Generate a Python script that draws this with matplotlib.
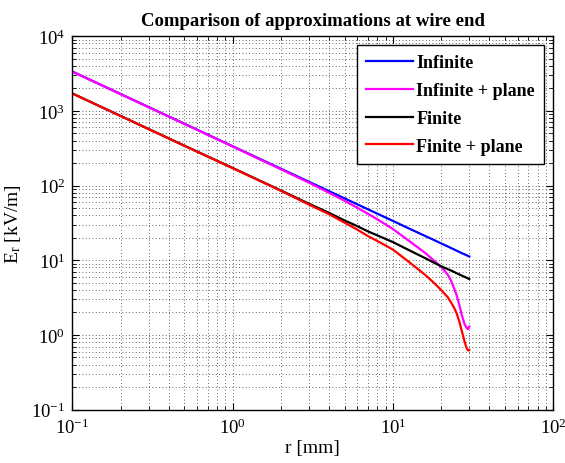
import matplotlib
matplotlib.use("Agg")
import matplotlib.pyplot as plt
from matplotlib.ticker import LogLocator

plt.rcParams['font.family'] = ['Liberation Serif']
plt.rcParams['mathtext.fontset'] = 'custom'
plt.rcParams['mathtext.rm'] = 'Liberation Serif'
plt.rcParams['mathtext.it'] = 'Liberation Serif:italic'
plt.rcParams['mathtext.bf'] = 'Liberation Serif:bold'

r_mm = [0.1, 0.2, 0.5, 1, 2, 3, 4, 5, 6, 7, 8, 10, 13, 16, 18, 20, 22, 23, 24, 25, 26, 27, 28, 28.5, 29, 29.5, 30]
e_infinite = [3360, 1680, 672, 336, 168, 112, 84, 67.2, 56, 48, 42, 33.6, 25.8, 21, 18.7, 16.8, 15.3, 14.6, 14, 13.4, 12.9, 12.4, 12, 11.8, 11.6, 11.4, 11.2]
e_infinite_plane = [3350, 1675, 668, 333, 165, 109, 79.8, 62.5, 50.4, 41.8, 35.3, 26.2, 17.3, 12.4, 9.9, 8.2, 6.4, 5.4, 4.3, 3.4, 2.5, 1.8, 1.4, 1.3, 1.22, 1.2, 1.3]
e_finite = [1710, 855, 342, 172, 86, 57, 43, 34, 28.6, 24.3, 21.5, 17.5, 13.2, 10.6, 9.3, 8.3, 7.6, 7.3, 7.0, 6.7, 6.45, 6.2, 6.0, 5.9, 5.8, 5.7, 5.6]
e_finite_plane = [1705, 852, 340, 171, 85, 55.5, 41.3, 31.8, 25.7, 21, 18.1, 13.9, 9.0, 6.3, 5.0, 4.0, 3.2, 2.75, 2.35, 1.95, 1.5, 1.1, 0.82, 0.72, 0.65, 0.62, 0.63]

labels = ["Infinite", "Infinite + plane", "Finite", "Finite + plane"]
colors = ["#0000ff", "#ff00ff", "#000000", "#ff0000"]

fig = plt.figure(figsize=(5.65, 4.64), dpi=100)
ax = fig.add_axes([0.128, 0.115, 0.851, 0.805])

for ys, lab, c in zip([e_infinite, e_infinite_plane, e_finite, e_finite_plane], labels, colors):
    ax.plot(r_mm, ys, color=c, lw=1.6, label=lab)

ax.set_xscale('log')
ax.set_yscale('log')
ax.set_xlim(0.1, 100)
ax.set_ylim(0.1, 1e4)
ax.xaxis.set_major_locator(LogLocator(base=10, numticks=10))
ax.yaxis.set_major_locator(LogLocator(base=10, numticks=10))
ax.xaxis.set_minor_locator(LogLocator(base=10, subs=range(2, 10), numticks=20))
ax.yaxis.set_minor_locator(LogLocator(base=10, subs=range(2, 10), numticks=20))

ax.grid(True, which='both', linestyle=(0, (1, 3)), color='black', lw=0.6, alpha=0.8)
ax.tick_params(which='both', direction='in', top=True, right=True, labelsize=13.5)
ax.tick_params(which='major', length=5)
ax.tick_params(which='minor', length=3)
ax.tick_params(axis='y', pad=5)
ax.tick_params(axis='x', pad=6)
for s in ax.spines.values():
    s.set_linewidth(1.0)

ax.set_title("Comparison of approximations at wire end", fontsize=13.5, fontweight='bold', pad=8)
ax.set_xlabel("r [mm]", fontsize=14, labelpad=1)
ax.set_ylabel(r"E$_\mathrm{r}$ [kV/m]", fontsize=14, labelpad=6)

leg = ax.legend(loc='upper right', fontsize=13, frameon=True, fancybox=False,
                edgecolor='black', framealpha=1, borderaxespad=0.5, borderpad=0.5,
                handlelength=2.6, handletextpad=0.2, labelspacing=0.6)
leg.get_frame().set_linewidth(1.0)
for t in leg.get_texts():
    t.set_fontweight('bold')

fig.savefig("out.png", dpi=100)
